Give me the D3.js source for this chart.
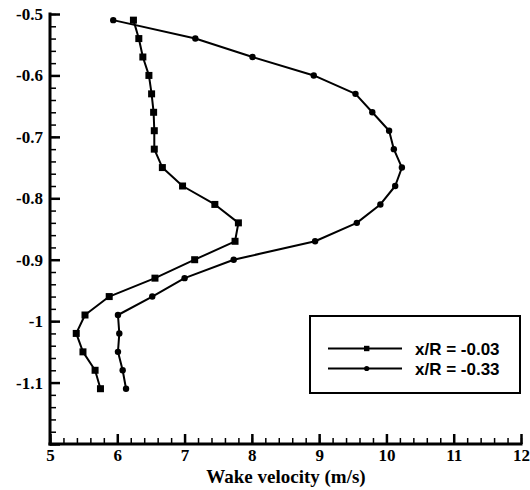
<!DOCTYPE html>
<html>
<head>
<meta charset="utf-8">
<style>
	body { margin: 0; background: #fff; }
	svg { display: block; }
</style>
<script src="https://d3js.org/d3.v7.min.js"></script>
</head>
<body>
<svg width="530" height="490"></svg>
<script>

// wall-normal position (y) shared by both profiles
var positions = [-0.51, -0.54, -0.57, -0.60, -0.63, -0.66, -0.69, -0.72, -0.75, -0.78, -0.81,
                 -0.84, -0.87, -0.90, -0.93, -0.96, -0.99, -1.02, -1.05, -1.08, -1.11];

// wake velocity, x/R = -0.03 (squares)
var velA = [6.24, 6.32, 6.38, 6.47, 6.51, 6.54, 6.55, 6.55, 6.67, 6.97, 7.45,
            7.80, 7.75, 7.15, 6.56, 5.88, 5.52, 5.39, 5.49, 5.67, 5.75];

// wake velocity, x/R = -0.33 (circles)
var velB = [5.94, 7.16, 8.01, 8.92, 9.54, 9.79, 10.04, 10.11, 10.23, 10.13, 9.91,
            9.56, 8.94, 7.73, 7.00, 6.52, 6.01, 6.03, 6.01, 6.08, 6.13];

var seriesNames = ["x/R = -0.03", "x/R = -0.33"];

var xTicks = [5, 6, 7, 8, 9, 10, 11, 12];
var yTicks = [-0.5, -0.6, -0.7, -0.8, -0.9, -1, -1.1, -1.2];
var yTickLabels = ["-0.5", "-0.6", "-0.7", "-0.8", "-0.9", "-1", "-1.1", ""];

var serif = "Liberation Serif, Times New Roman, serif";

var svg = d3.select("svg");

var x = d3.scaleLinear().domain([5, 12]).range([50, 521]);
var y = d3.scaleLinear().domain([-0.5, -1.2]).range([14, 444]);

var xMinor = d3.range(5, 12.001, 0.2).map(function(d) { return +d.toFixed(1); });
var yMinor = d3.range(-0.5, -1.2001, -0.02).map(function(d) { return +d.toFixed(2); });

// minor ticks
svg.append("g")
	.attr("transform", "translate(0,444)")
	.call(d3.axisBottom(x).tickValues(xMinor).tickSize(-6).tickFormat(""))
	.call(function(g) { g.select(".domain").remove(); g.selectAll("line").attr("stroke-width", 1.5); });

svg.append("g")
	.attr("transform", "translate(50,0)")
	.call(d3.axisLeft(y).tickValues(yMinor).tickSize(-6).tickFormat(""))
	.call(function(g) { g.select(".domain").remove(); g.selectAll("line").attr("stroke-width", 1.5); });

// major ticks + labels
var gx = svg.append("g")
	.attr("transform", "translate(0,444)")
	.call(d3.axisBottom(x).tickValues(xTicks).tickSize(-10).tickFormat(function(d) { return String(d); }));
gx.select(".domain").remove();
gx.selectAll("line").attr("stroke-width", 2.5);
gx.selectAll("text").attr("y", 17).attr("dy", "0");

var gy = svg.append("g")
	.attr("transform", "translate(50,0)")
	.call(d3.axisLeft(y).tickValues(yTicks).tickSize(-10).tickFormat(function(d, i) { return yTickLabels[i]; }));
gy.select(".domain").remove();
gy.selectAll("line").attr("stroke-width", 2.5);
gy.selectAll("text").attr("x", -7);

[gx, gy].forEach(function(g) {
	g.attr("font-family", serif).attr("font-size", 17).attr("font-weight", "bold");
	g.selectAll("text")
		.attr("font-family", serif)
		.attr("font-size", 17)
		.attr("font-weight", "bold")
		.attr("fill", "#000");
});

// axis lines
svg.append("line").attr("x1", x(5)).attr("x2", x(12)).attr("y1", 444).attr("y2", 444)
	.attr("stroke", "#000").attr("stroke-width", 3).attr("stroke-linecap", "square");
svg.append("line").attr("x1", 50).attr("x2", 50).attr("y1", y(-0.5)).attr("y2", y(-1.2))
	.attr("stroke", "#000").attr("stroke-width", 3).attr("stroke-linecap", "square");

svg.append("text")
	.attr("x", 286).attr("y", 483)
	.attr("text-anchor", "middle")
	.attr("font-family", serif)
	.attr("font-weight", "bold")
	.attr("font-size", 19)
	.text("Wake velocity (m/s)");

var line = d3.line()
	.x(function(d) { return x(d[0]); })
	.y(function(d) { return y(d[1]); });

var dataA = velA.map(function(v, i) { return [v, positions[i]]; });
var dataB = velB.map(function(v, i) { return [v, positions[i]]; });

[dataA, dataB].forEach(function(data) {
	svg.append("path")
		.datum(data)
		.attr("fill", "none")
		.attr("stroke", "#000")
		.attr("stroke-width", 2)
		.attr("stroke-linejoin", "round")
		.attr("d", line);
});

svg.append("g").selectAll("rect")
	.data(dataA)
	.enter().append("rect")
	.attr("x", function(d) { return x(d[0]) - 3.5; })
	.attr("y", function(d) { return y(d[1]) - 3.5; })
	.attr("width", 7).attr("height", 7)
	.attr("fill", "#000");

svg.append("g").selectAll("circle")
	.data(dataB)
	.enter().append("circle")
	.attr("cx", function(d) { return x(d[0]); })
	.attr("cy", function(d) { return y(d[1]); })
	.attr("r", 3.2)
	.attr("fill", "#000");

// legend
var lg = svg.append("g");
lg.append("rect")
	.attr("x", 310).attr("y", 316).attr("width", 210).attr("height", 77)
	.attr("fill", "#fff").attr("stroke", "#000").attr("stroke-width", 2);

seriesNames.forEach(function(name, i) {
	var ly = 348.5 + i * 20;
	lg.append("line").attr("x1", 328).attr("x2", 402).attr("y1", ly).attr("y2", ly)
		.attr("stroke", "#000").attr("stroke-width", 2);
	if (i === 0) {
		lg.append("rect").attr("x", 364).attr("y", ly - 2.7).attr("width", 5.4).attr("height", 5.4).attr("fill", "#000");
	} else {
		lg.append("circle").attr("cx", 366.7).attr("cy", ly).attr("r", 2.6).attr("fill", "#000");
	}
	lg.append("text")
		.attr("x", 415).attr("y", ly + 6)
		.attr("font-family", "Liberation Sans, Arial, sans-serif")
		.attr("font-weight", "bold")
		.attr("font-size", 17)
		.text(name);
});

</script>
</body>
</html>
